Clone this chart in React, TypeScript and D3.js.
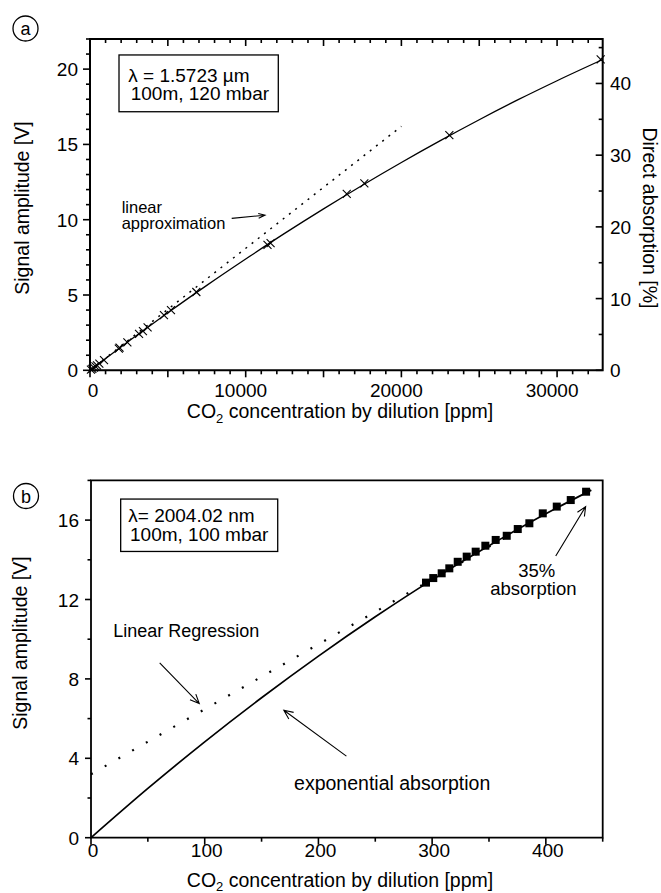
import React from "react";
import * as d3 from "d3";

const FONT = "'Liberation Sans', Arial, Helvetica, sans-serif";

// ---------- Panel (a) data ----------
const aConc = [60, 150, 250, 350, 450, 600, 900, 1850, 1900, 2400, 3150, 3400, 3700, 4750, 5200, 6830, 11400, 11600, 16490, 17620, 23080, 32800];
const aSignal = [0.05, 0.1, 0.18, 0.26, 0.33, 0.45, 0.68, 1.44, 1.5, 1.86, 2.42, 2.6, 2.85, 3.67, 4.0, 5.2, 8.33, 8.45, 11.71, 12.42, 15.62, 20.65];
const aFitConc = [0, 2500, 5000, 7500, 10000, 12500, 15000, 17500, 20000, 22500, 25000, 27500, 30000, 32900];
const aFitSignal = [0, 1.94, 3.82, 5.64, 7.39, 9.09, 10.72, 12.29, 13.8, 15.25, 16.64, 17.97, 19.23, 20.62];
const aLinConc = [0, 20000];
const aLinSignal = [0, 16.2];
const aXTicks = [0, 10000, 20000, 30000];
const aYTicks = [0, 5, 10, 15, 20];
const aRightTicks = [0, 10, 20, 30, 40];

// ---------- Panel (b) data ----------
const bConc = [294.6, 301, 308.4, 315.1, 322.5, 330.4, 338.3, 346.8, 355.9, 365.6, 375.3, 385.5, 397.3, 409.6, 421.9, 435.4];
const bSignal = [12.85, 13.08, 13.32, 13.57, 13.9, 14.16, 14.41, 14.71, 15.0, 15.21, 15.55, 15.84, 16.34, 16.68, 17.01, 17.43];
const bFitConc = [0, 50, 100, 150, 200, 250, 300, 350, 400, 440];
const bFitSignal = [0, 2.48, 4.83, 7.05, 9.15, 11.13, 12.99, 14.71, 16.32, 17.51];
const bRegConc = [0, 440];
const bRegSignal = [3.2, 17.6];
const bXTicks = [0, 100, 200, 300, 400];
const bYTicks = [0, 4, 8, 12, 16];

function arrowPath(x1: number, y1: number, x2: number, y2: number, head = 10, ang = 0.42) {
  const a = Math.atan2(y2 - y1, x2 - x1);
  const hx1 = x2 - head * Math.cos(a - ang);
  const hy1 = y2 - head * Math.sin(a - ang);
  const hx2 = x2 - head * Math.cos(a + ang);
  const hy2 = y2 - head * Math.sin(a + ang);
  return `M${x1},${y1}L${x2},${y2}M${hx1},${hy1}L${x2},${y2}L${hx2},${hy2}`;
}

export default function App() {
  const xA = d3.scaleLinear().domain([0, 32930]).range([90, 602.7]);
  const yA = d3.scaleLinear().domain([0, 22]).range([370.3, 39]);
  const yAR = d3.scaleLinear().domain([0, 46.2]).range([370.3, 39]);
  const xB = d3.scaleLinear().domain([0, 450]).range([91, 602.7]);
  const yB = d3.scaleLinear().domain([0, 18]).range([837.7, 480.4]);

  const lineA = d3.line<number>().x((d, i) => xA(aFitConc[i])).y((d) => yA(d)).curve(d3.curveMonotoneX);
  const linA = d3.line<number>().x((d, i) => xA(aLinConc[i])).y((d) => yA(d));
  const lineB = d3.line<number>().x((d, i) => xB(bFitConc[i])).y((d) => yB(d)).curve(d3.curveMonotoneX);
  const regB = d3.line<number>().x((d, i) => xB(bRegConc[i])).y((d) => yB(d));

  const aX0 = xA.range()[0], aX1 = xA.range()[1];
  const aY0 = yA.range()[0], aY1 = yA.range()[1];
  const bX0 = xB.range()[0], bX1 = xB.range()[1];
  const bY0 = yB.range()[0], bY1 = yB.range()[1];

  const aXMinor = d3.range(0, 33000, 1000);
  const aYMinor = d3.range(0, 23, 1);
  const aRMinor = d3.range(0, 46, 5);
  const bXMinor = d3.range(0, 451, 50);
  const bYMinor = d3.range(0, 19, 2);

  const tickFs = 19;
  const titleFs = 19.5;

  return (
    <svg width={661} height={893} style={{ position: "absolute", left: 0, top: 0, background: "#fff" }} fontFamily={FONT}>
      {/* ================= Panel (a) ================= */}
      <g>
        <circle cx={25.5} cy={28.5} r={12.5} fill="none" stroke="#000" strokeWidth={1.3} />
        <text x={25.5} y={34.5} textAnchor="middle" fontSize={18}>a</text>

        <path d={`M${aX0},${aY1}H${aX1}V${aY0}H${aX0}Z`} fill="none" stroke="#000" strokeWidth={2} />

        {aXMinor.map((t) => (
          <line key={"axb" + t} x1={xA(t)} x2={xA(t)} y1={aY0} y2={aY0 + (t % 5000 === 0 ? 7 : 4)} stroke="#000" strokeWidth={1.6} />
        ))}
        {aXMinor.map((t) => (
          <line key={"axt" + t} x1={xA(t)} x2={xA(t)} y1={aY1} y2={aY1 + (t % 5000 === 0 ? 7 : 4)} stroke="#000" strokeWidth={1.6} />
        ))}
        {aXTicks.map((t) => (
          <text key={"axl" + t} x={xA(t) + (t === 0 ? 3 : -5)} y={397.3} textAnchor="middle" fontSize={tickFs}>{t}</text>
        ))}
        {aYMinor.map((t) => (
          <line key={"ayl" + t} x1={aX0} x2={aX0 - (t % 5 === 0 ? 7 : 4)} y1={yA(t)} y2={yA(t)} stroke="#000" strokeWidth={1.6} />
        ))}
        {aYTicks.map((t) => (
          <text key={"ayt" + t} x={78} y={yA(t) + 7} textAnchor="end" fontSize={tickFs}>{t}</text>
        ))}
        {aRMinor.map((t) => (
          <line key={"ayr" + t} x1={aX1} x2={aX1 - (t % 10 === 0 ? 7 : 4)} y1={yAR(t)} y2={yAR(t)} stroke="#000" strokeWidth={1.6} />
        ))}
        {aRightTicks.map((t) => (
          <text key={"ayrt" + t} x={610} y={yAR(t) + 7} textAnchor="start" fontSize={tickFs}>{t}</text>
        ))}

        <text x={340} y={418} textAnchor="middle" fontSize={titleFs}>
          CO<tspan fontSize={13} dy={5}>2</tspan><tspan dy={-5}> concentration by dilution [ppm]</tspan>
        </text>
        <text transform={`translate(29,208) rotate(-90)`} textAnchor="middle" fontSize={titleFs}>Signal amplitude [V]</text>
        <text transform={`translate(642.5,218) rotate(90)`} textAnchor="middle" fontSize={titleFs}>Direct absorption [%]</text>

        <path d={linA(aLinSignal) || ""} fill="none" stroke="#000" strokeWidth={1.5} strokeDasharray="2 5.9" />
        <path d={lineA(aFitSignal) || ""} fill="none" stroke="#000" strokeWidth={1.3} />
        {aConc.map((c, i) => {
          const x = xA(c), y = yA(aSignal[i]);
          return <path key={"ac" + i} d={`M${x - 4},${y - 4}L${x + 4},${y + 4}M${x - 4},${y + 4}L${x + 4},${y - 4}`} stroke="#000" strokeWidth={1.1} fill="none" />;
        })}

        <rect x={xA(1863)} y={yA(20.94)} width={xA(12094) - xA(1863)} height={yA(17.17) - yA(20.94)} fill="#fff" stroke="#000" strokeWidth={1.3} />
        <text fontSize={19}>
          <tspan x={xA(2460)} y={yA(19.16)}>λ = 1.5723 µm</tspan>
          <tspan x={xA(2614)} y={yA(17.95)}>100m, 120 mbar</tspan>
        </text>

        <text fontSize={16.5}>
          <tspan x={xA(2036)} y={yA(10.42)}>linear</tspan>
          <tspan x={xA(2036)} y={yA(9.36)}>approximation</tspan>
        </text>
        <path d={arrowPath(xA(9101), yA(10.09), xA(11240), yA(10.3), 7, 0.35)} fill="none" stroke="#000" strokeWidth={1.1} />
      </g>

      {/* ================= Panel (b) ================= */}
      <g>
        <circle cx={26} cy={496} r={12.5} fill="none" stroke="#000" strokeWidth={1.3} />
        <text x={26} y={502.5} textAnchor="middle" fontSize={18}>b</text>

        <path d={`M${bX0},${bY1}H${bX1}V${bY0}H${bX0}Z`} fill="none" stroke="#000" strokeWidth={1.8} />

        {bXMinor.map((t) => (
          <line key={"bxb" + t} x1={xB(t)} x2={xB(t)} y1={bY0} y2={bY0 + (t % 100 === 0 ? 7 : 4)} stroke="#000" strokeWidth={1.6} />
        ))}
        {bXTicks.map((t) => (
          <text key={"bxl" + t} x={xB(t) + 2} y={856.7} textAnchor="middle" fontSize={tickFs}>{t}</text>
        ))}
        {bYMinor.map((t) => (
          <line key={"byl" + t} x1={bX0} x2={bX0 - (t % 4 === 0 ? 6 : 3.5)} y1={yB(t)} y2={yB(t)} stroke="#000" strokeWidth={1.6} />
        ))}
        {bYTicks.map((t) => (
          <text key={"byt" + t} x={79} y={yB(t) + 7} textAnchor="end" fontSize={tickFs}>{t}</text>
        ))}

        <text x={340} y={886.5} textAnchor="middle" fontSize={titleFs}>
          CO<tspan fontSize={13} dy={4.5}>2</tspan><tspan dy={-4.5}> concentration by dilution [ppm]</tspan>
        </text>
        <text transform={`translate(27,643) rotate(-90)`} textAnchor="middle" fontSize={titleFs}>Signal amplitude [V]</text>

        <path d={regB(bRegSignal) || ""} fill="none" stroke="#000" strokeWidth={2.2} strokeDasharray="2 13.8" />
        <path d={lineB(bFitSignal) || ""} fill="none" stroke="#000" strokeWidth={1.7} />
        {bConc.map((c, i) => (
          <rect key={"bs" + i} x={xB(c) - 4} y={yB(bSignal[i]) - 4} width={8} height={8} fill="#000" />
        ))}

        <rect x={xB(26.1)} y={yB(17.06)} width={xB(164.2) - xB(26.1)} height={yB(14.42) - yB(17.06)} fill="#fff" stroke="#000" strokeWidth={1.3} />
        <text fontSize={19}>
          <tspan x={xB(32.8)} y={yB(15.92)}>λ= 2004.02 nm</tspan>
          <tspan x={xB(34.3)} y={yB(14.96)}>100m, 100 mbar</tspan>
        </text>

        <text x={xB(19.6)} y={yB(10.13)} fontSize={18}>Linear Regression</text>
        <path d={arrowPath(xB(60.4), yB(8.81), xB(95.2), yB(6.76))} fill="none" stroke="#000" strokeWidth={1.1} />
        <text x={xB(178.6)} y={yB(2.4)} fontSize={19.5}>exponential absorption</text>
        <path d={arrowPath(xB(224.6), yB(4.11), xB(169.6), yB(6.42))} fill="none" stroke="#000" strokeWidth={1.1} />
        <text fontSize={18.5} textAnchor="middle">
          <tspan x={xB(392)} y={yB(13.12)}>35%</tspan>
          <tspan x={xB(389)} y={yB(12.23)}>absorption</tspan>
        </text>
        <path d={arrowPath(xB(408.7), yB(14.19), xB(435), yB(16.68))} fill="none" stroke="#000" strokeWidth={1.1} />
      </g>
    </svg>
  );
}
